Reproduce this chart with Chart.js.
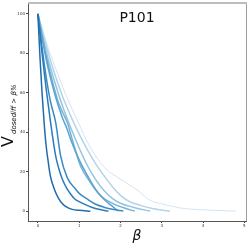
<!DOCTYPE html>
<html>
<head>
<meta charset="utf-8">
<script src="https://cdn.jsdelivr.net/npm/chart.js@4"></script>
<style>
  html, body { margin: 0; padding: 0; background: #ffffff; }
  #wrap { width: 250px; height: 244px; }
</style>
</head>
<body>
<div id="wrap"><canvas id="dvhChart" width="250" height="244"></canvas></div>
<script>
// P101 - fraction of volume with dose difference above beta %
const patientName = "P101";
const xTicks = [0, 1, 2, 3, 4, 5];
const yTicks = [0, 20, 40, 60, 80, 100];

// one curve per plan, steepest first
const betaA = [0, 0.05, 0.1, 0.15, 0.2, 0.25, 0.3, 0.4, 0.5, 0.6, 0.7, 0.83, 1.0, 1.27];
const volA  = [100, 78, 60, 45, 33, 25, 18, 11, 6.5, 3.6, 2, 0.9, 0.4, 0];
const betaB = [0, 0.1, 0.2, 0.3, 0.43, 0.5, 0.59, 0.7, 0.79, 0.9, 1.0, 1.11, 1.3, 1.5, 1.71];
const volB  = [100, 80, 62, 46, 28, 22, 16.3, 11.5, 8.7, 6, 4.8, 3.7, 2, 0.8, 0];
const betaC = [0, 0.1, 0.2, 0.3, 0.43, 0.55, 0.71, 0.91, 1.0, 1.19, 1.4, 1.6, 1.8, 2.07];
const volC  = [100, 83, 68, 56, 45, 28, 17, 11.2, 9, 6.2, 3.5, 2, 1, 0];
const betaD = [0, 0.1, 0.2, 0.3, 0.4, 0.5, 0.6, 0.7, 0.8, 1.0, 1.2, 1.4, 1.6, 1.8, 1.95];
const volD  = [100, 88, 77, 68, 60, 53, 47, 42, 36, 26, 18, 11, 6, 2.5, 0];
const betaE = [0, 0.1, 0.2, 0.3, 0.4, 0.5, 0.6, 0.71, 0.83, 1.03, 1.27, 1.51, 1.83, 2.15, 2.35];
const volE  = [100, 89, 79, 70, 62, 55, 50, 45, 36.5, 23, 14.6, 7.9, 3.7, 1.2, 0];
const betaF = [0, 0.2, 0.4, 0.6, 0.8, 1.0, 1.2, 1.4, 1.6, 1.8, 2.0, 2.3, 2.72];
const volF  = [100, 81, 66, 53, 42, 32, 23, 16, 10.5, 6.5, 4, 2, 0];
const betaG = [0, 0.2, 0.4, 0.6, 0.8, 1.0, 1.2, 1.4, 1.6, 1.8, 2.0, 2.2, 2.5, 2.8, 3.2];
const volG  = [100, 84, 70, 58, 48, 39, 31, 24, 18, 12.5, 8, 5, 2.8, 1.2, 0];
const betaH = [0, 0.2, 0.4, 0.6, 0.8, 1.0, 1.2, 1.43, 1.67, 1.9, 2.12, 2.43, 2.72, 3.0, 3.48, 3.87, 4.3, 4.8];
const volH  = [100, 86, 74, 63, 53, 44, 35, 27, 21, 17.5, 14.6, 10.4, 5.4, 3.7, 1.5, 0.8, 0.4, 0];

const curveBetas = [betaA, betaB, betaC, betaD, betaE, betaF, betaG, betaH];
const curveVols  = [volA, volB, volC, volD, volE, volF, volG, volH];

// Blues colours, dark to light
const lineColors = ["#1f6db1", "#2b7bba", "#3a8ac2", "#5ba3d0", "#73b3d8", "#94c4df", "#b3d3e8", "#d3e4f3"];

const datasets = curveBetas.map((b, i) => ({
    data: b.map((x, j) => ({ x: x, y: curveVols[i][j] })),
    borderColor: lineColors[i],
    borderWidth: i === 7 ? 1 : 1.5,
    pointRadius: 0,
    showLine: true,
    fill: false,
    cubicInterpolationMode: "monotone"
}));

// labels and the light top / right frame
const decor = {
    id: "decor",
    afterDraw(chart) {
        const ctx = chart.ctx;
        const a = chart.chartArea;
        ctx.save();

        ctx.strokeStyle = "#bdbdbd";
        ctx.lineWidth = 2;
        ctx.beginPath();
        ctx.moveTo(a.left, a.top - 1);
        ctx.lineTo(a.right + 1, a.top - 1);
        ctx.stroke();
        ctx.lineWidth = 1;
        ctx.strokeStyle = "#9e9e9e";
        ctx.beginPath();
        ctx.moveTo(a.right + 0.5, a.top);
        ctx.lineTo(a.right + 0.5, a.bottom);
        ctx.stroke();

        ctx.fillStyle = "#111111";
        ctx.textAlign = "center";
        ctx.textBaseline = "middle";
        ctx.font = "14px 'DejaVu Sans'";
        ctx.fillText(patientName, 137, 18);

        ctx.font = "italic 14px 'DejaVu Sans'";
        ctx.fillText("\u03b2", 137, 236);

        ctx.translate(13, 147);
        ctx.rotate(-Math.PI / 2);
        ctx.textAlign = "left";
        ctx.textBaseline = "alphabetic";
        ctx.font = "16px 'DejaVu Sans'";
        ctx.fillText("V", 0, 0);
        ctx.font = "italic 7px 'DejaVu Sans'";
        ctx.fillText("dosediff > \u03b2%", 13, 2.5);
        ctx.restore();
    }
};

new Chart(document.getElementById("dvhChart"), {
    type: "scatter",
    data: { datasets: datasets },
    options: {
        responsive: false,
        animation: false,
        layout: { padding: { top: 4, right: 4, left: 0, bottom: 0 } },
        plugins: {
            legend: { display: false },
            tooltip: { enabled: false }
        },
        scales: {
            x: {
                type: "linear",
                min: -0.24,
                max: 5.04,
                afterBuildTicks: (s) => { s.ticks = xTicks.map(v => ({ value: v })); },
                afterFit: (s) => { s.height = 23; },
                grid: { drawOnChartArea: false, drawTicks: true, tickLength: 2, color: "#444" },
                border: { color: "#555", width: 1 },
                ticks: {
                    color: "#333",
                    font: { size: 4, family: "DejaVu Sans" },
                    padding: 1,
                    maxRotation: 0
                }
            },
            y: {
                type: "linear",
                min: -5,
                max: 105,
                afterBuildTicks: (s) => { s.ticks = yTicks.map(v => ({ value: v })); },
                afterFit: (s) => { s.width = 28; },
                grid: { drawOnChartArea: false, drawTicks: true, tickLength: 2, color: "#444" },
                border: { color: "#555", width: 1 },
                ticks: {
                    color: "#333",
                    font: { size: 4, family: "DejaVu Sans" },
                    padding: 1
                }
            }
        }
    },
    plugins: [decor]
});
</script>
</body>
</html>
